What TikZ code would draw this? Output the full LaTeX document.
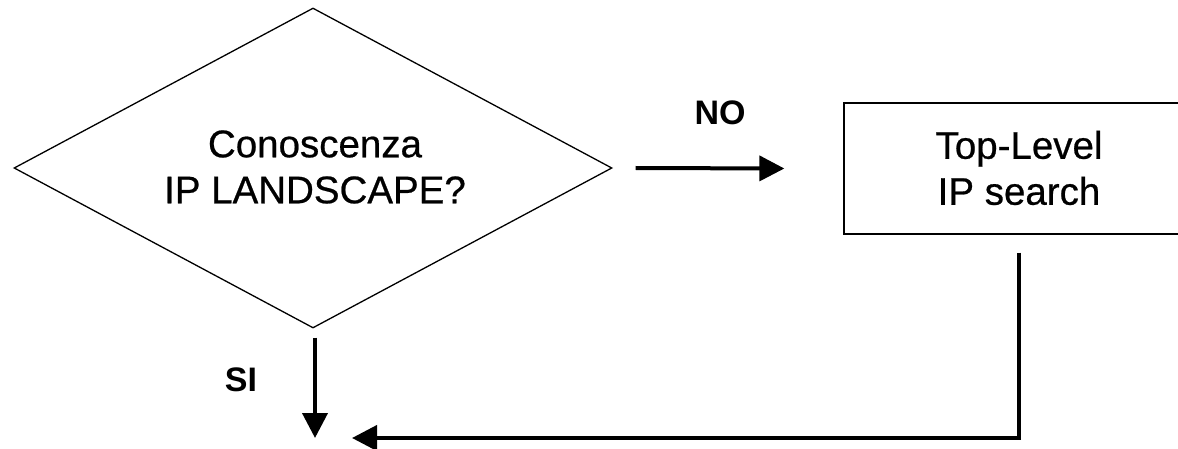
\documentclass[tikz,border=0pt]{standalone}
\usepackage{fontspec}
\setmainfont{Liberation Sans}
\newfontfamily\heavyfont[FakeBold=0.6]{Liberation Sans}
\usetikzlibrary{shapes.geometric,arrows.meta}
\begin{document}
\begin{tikzpicture}[x=1pt,y=-1pt,
  shapeline/.style={draw=black,line width=1.3pt},
  maintext/.style={font=\heavyfont\fontsize{38.5}{46}\selectfont,align=center},
  lbl/.style={font=\fontsize{34}{40}\selectfont\bfseries},
  arr/.style={line width=4pt,-{Triangle[length=25pt,width=25pt]}},
  plain/.style={line width=4pt}]
\useasboundingbox (0,0) rectangle (1178,449);
\begin{scope}
\clip (0,0) rectangle (1178,449);
\node[shapeline,shape=diamond,aspect=1.87,minimum width=598pt,minimum height=320pt,inner sep=0pt] (d) at (313,168) {};
\node[maintext] (dt) at (315,167) {Conoscenza\\IP LANDSCAPE?};
\node[shapeline,rectangle,minimum width=350pt,minimum height=131pt,inner sep=0pt] (r) at (1019,168.5) {};
\node[maintext] (rt) at (1019,168) {Top-Level\\IP search};
\node[lbl] (no) at (720,113) {NO};
\node[lbl] (si) at (241,380) {SI};
\coordinate (join) at (315,438);
\coordinate (corner) at (1019,438);
\draw[arr] ([xshift=23pt]d.east) -- ([xshift=-59pt]r.west);
\draw[arr] ([xshift=2pt,yshift=-9pt]d.south) -- (join);
\draw[plain] ([yshift=-18pt]r.south) -- ([yshift=2pt]corner);
\draw[arr] ([xshift=2pt]corner) -- ([xshift=37pt]join);
\end{scope}
\end{tikzpicture}
\end{document}
